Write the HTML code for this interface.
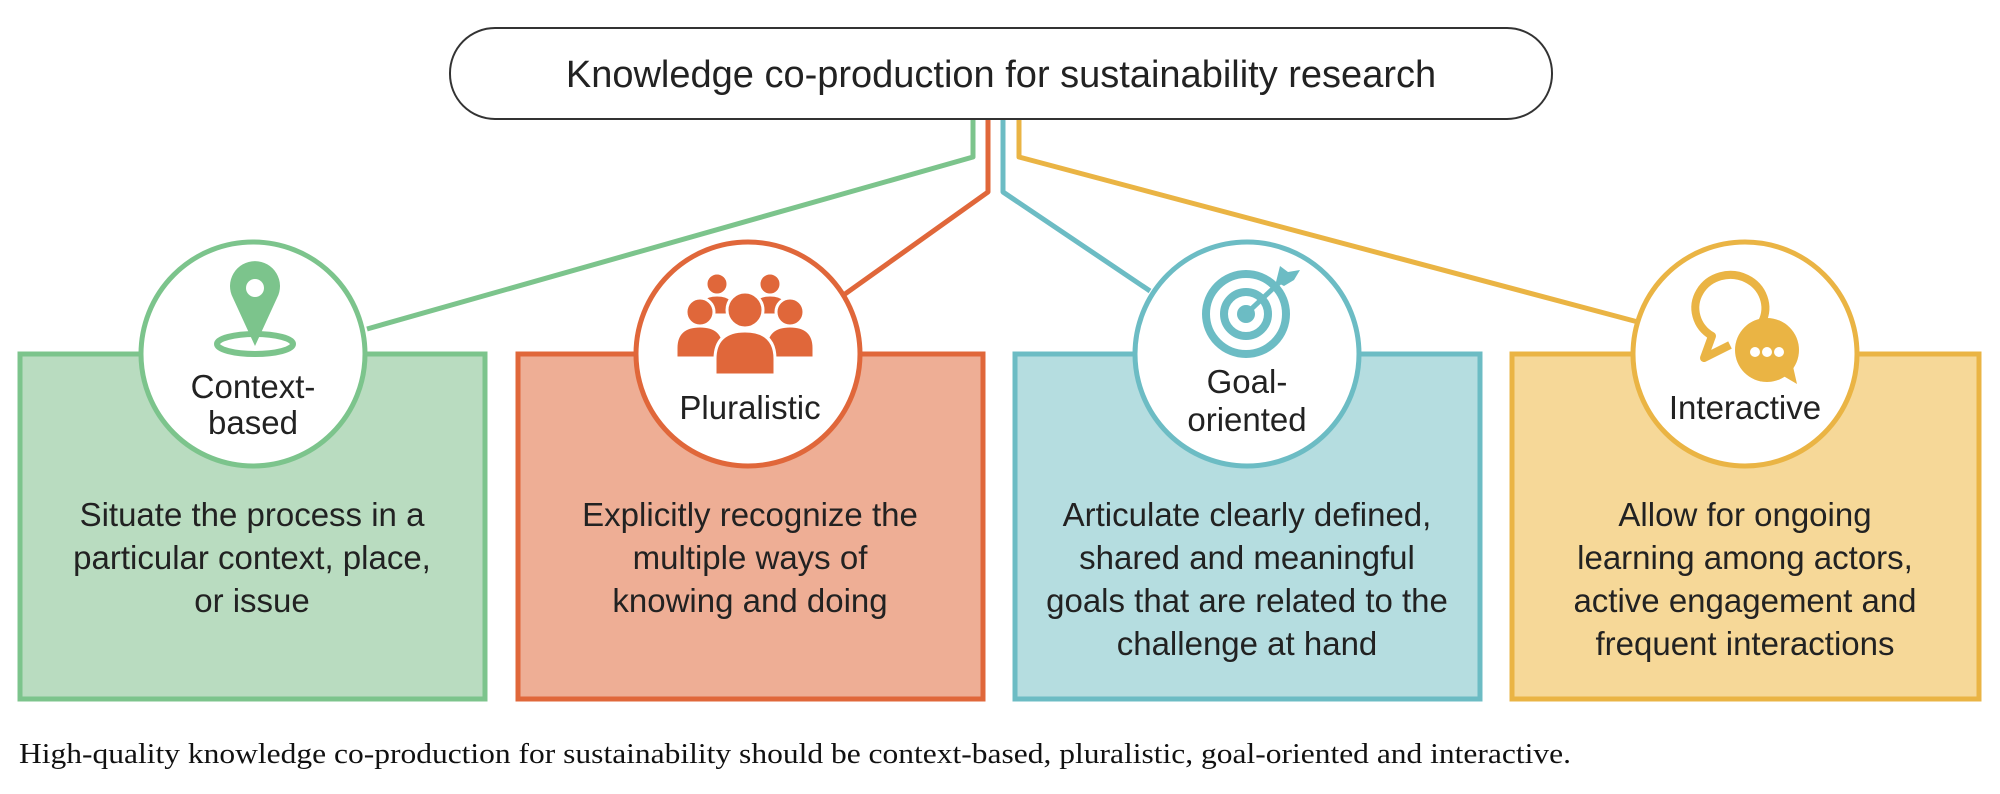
<!DOCTYPE html>
<html><head><meta charset="utf-8"><style>
html,body{margin:0;padding:0;background:#fff;}
svg{display:block;}
text{font-family:"Liberation Sans",Arial,sans-serif;fill:#222;}
.cap{font-family:"Liberation Serif",serif;fill:#111;}
</style></head><body>
<svg width="2000" height="794" viewBox="0 0 2000 794" xmlns="http://www.w3.org/2000/svg">
<g fill="none" stroke-width="5" stroke-linejoin="round">
<polyline points="973,119 973,157 367,329" stroke="#7cc48c"/>
<polyline points="988,119 988,192 845,294" stroke="#e0673a"/>
<polyline points="1003,119 1003,192 1150,291" stroke="#6cbcc4"/>
<polyline points="1019,119 1019,157 1638,322" stroke="#eab444"/>
</g>
<rect x="450" y="28" width="1102" height="91" rx="45" ry="45" fill="#fff" stroke="#333" stroke-width="2"/>
<text x="1001" y="87" font-size="38" text-anchor="middle">Knowledge co-production for sustainability research</text>
<rect x="20" y="354" width="465" height="345" fill="#b9dcc0" stroke="#7cc48c" stroke-width="5"/>
<rect x="518" y="354" width="465" height="345" fill="#eeae95" stroke="#e0673a" stroke-width="5"/>
<rect x="1015" y="354" width="465" height="345" fill="#b5dde0" stroke="#6cbcc4" stroke-width="5"/>
<rect x="1512" y="354" width="467" height="345" fill="#f6d898" stroke="#eab444" stroke-width="5"/>
<circle cx="253" cy="354" r="112" fill="#fff" stroke="#7cc48c" stroke-width="5"/>
<circle cx="748" cy="354" r="112" fill="#fff" stroke="#e0673a" stroke-width="5"/>
<circle cx="1247" cy="354" r="112" fill="#fff" stroke="#6cbcc4" stroke-width="5"/>
<circle cx="1745" cy="354" r="112" fill="#fff" stroke="#eab444" stroke-width="5"/>
<ellipse cx="255" cy="344" rx="38" ry="10" fill="none" stroke="#7cc48c" stroke-width="6"/>
<path d="M255,346 L233,298 A25,25 0 1 1 277,298 Z" fill="#7cc48c"/>
<circle cx="255" cy="288" r="9" fill="#fff"/>
<g fill="#e0673a" stroke="#fff" stroke-width="3">
<circle cx="717" cy="284" r="11"/><path d="M697,315 q0,-20 20,-20 q20,0 20,20 z"/>
<circle cx="770" cy="284" r="11"/><path d="M750,315 q0,-20 20,-20 q20,0 20,20 z"/>
<circle cx="700" cy="312" r="14"/><path d="M676,358 l0,-10 q0,-22 24,-22 q24,0 24,22 l0,10 z"/>
<circle cx="790" cy="312" r="14"/><path d="M766,358 l0,-10 q0,-22 24,-22 q24,0 24,22 l0,10 z"/>
<circle cx="745" cy="310" r="18"/><path d="M715,375 l0,-16 q0,-28 30,-28 q30,0 30,28 l0,16 z"/>
</g>
<g fill="none" stroke="#6cbcc4" stroke-width="8">
<circle cx="1246" cy="314" r="40"/><circle cx="1246" cy="314" r="22"/>
</g>
<circle cx="1246" cy="314" r="9" fill="#6cbcc4"/>
<line x1="1246" y1="314" x2="1282" y2="280" stroke="#6cbcc4" stroke-width="5"/>
<path d="M1276,282 l4,-16 l8,6 l12,-2 l-6,10 l-10,6 z" fill="#6cbcc4"/>
<path d="M1762,322 A35,33 0 1 0 1712,336 L1704,358 L1730,345" fill="none" stroke="#eab444" stroke-width="8" stroke-linejoin="round"/>
<circle cx="1767" cy="350" r="32" fill="#eab444"/>
<path d="M1780,374 L1797,384 L1792,362 z" fill="#eab444"/>
<circle cx="1755" cy="352" r="5" fill="#fff"/><circle cx="1767" cy="352" r="5" fill="#fff"/><circle cx="1779" cy="352" r="5" fill="#fff"/>
<g font-size="33" text-anchor="middle">
<text x="253" y="398">Context-</text><text x="253" y="434">based</text>
<text x="750" y="419">Pluralistic</text>
<text x="1247" y="393">Goal-</text><text x="1247" y="431">oriented</text>
<text x="1745" y="419">Interactive</text>
</g>
<g font-size="33" text-anchor="middle">
<text x="252" y="526">Situate the process in a</text>
<text x="252" y="569">particular context, place,</text>
<text x="252" y="612">or issue</text>
<text x="750" y="526">Explicitly recognize the</text>
<text x="750" y="569">multiple ways of</text>
<text x="750" y="612">knowing and doing</text>
<text x="1247" y="526">Articulate clearly defined,</text>
<text x="1247" y="569">shared and meaningful</text>
<text x="1247" y="612">goals that are related to the</text>
<text x="1247" y="655">challenge at hand</text>
<text x="1745" y="526">Allow for ongoing</text>
<text x="1745" y="569">learning among actors,</text>
<text x="1745" y="612">active engagement and</text>
<text x="1745" y="655">frequent interactions</text>
</g>
<text class="cap" x="19" y="763" font-size="29" textLength="1552" lengthAdjust="spacingAndGlyphs">High-quality knowledge co-production for sustainability should be context-based, pluralistic, goal-oriented and interactive.</text>
</svg>
</body></html>
